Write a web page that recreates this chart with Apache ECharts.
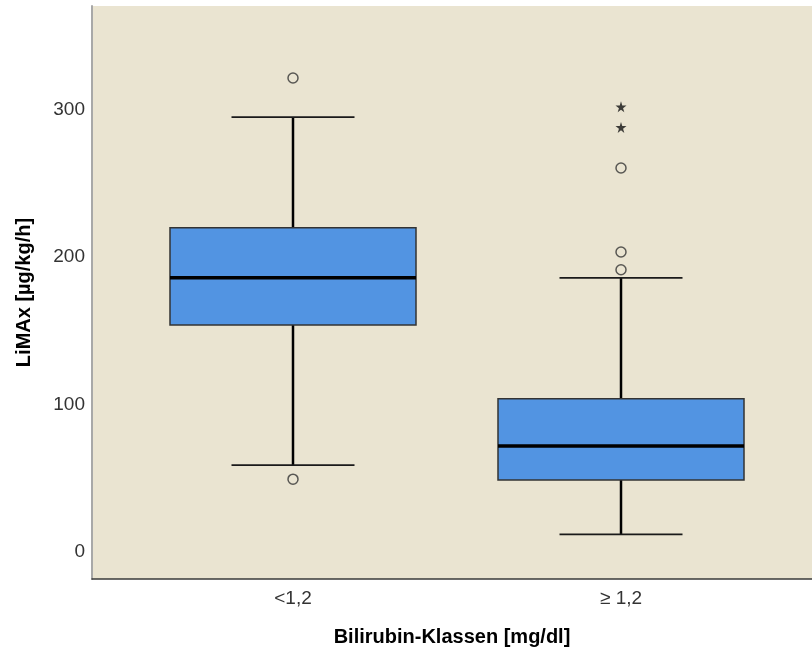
<!DOCTYPE html>
<html>
<head>
<meta charset="utf-8">
<script src="https://cdn.jsdelivr.net/npm/echarts@6/dist/echarts.min.js"></script>
<style>html,body{margin:0;padding:0;background:#fff}#c{width:812px;height:652px}</style>
</head>
<body>
<div id="c"></div>
<script>
const categories = ['<1,2', '\u2265 1,2'];
const whiskerLow = [59, 12];
const q1 = [154, 49];
const median = [186, 72];
const q3 = [220, 104];
const whiskerHigh = [295, 186];
const outlierCat = [0, 0, 1, 1, 1];
const outlierVal = [321.5, 49.5, 191.5, 203.5, 260.5];
const extremeCat = [1, 1];
const extremeVal = [288, 302];
const yTicks = [0, 100, 200, 300];

const boxData = categories.map((c, i) => [i, whiskerLow[i], q1[i], median[i], q3[i], whiskerHigh[i]]);
const outlierData = outlierCat.map((c, i) => [c, outlierVal[i]]);
const extremeData = extremeCat.map((c, i) => [c, extremeVal[i]]);

const chart = echarts.init(document.getElementById('c'));
const FONT = 'Arial, "Liberation Sans", sans-serif';
chart.setOption({
  animation: false,
  grid: { left: 92, right: 0, top: 6, bottom: 71, show: true, backgroundColor: '#EAE4D1', borderWidth: 0 },
  xAxis: {
    type: 'value', min: -0.6128, max: 1.5823,
    splitLine: { show: false },
    axisLine: { show: true, onZero: false, lineStyle: { color: '#3a3a3a', width: 1.5 } },
    axisTick: { show: false },
    axisLabel: { customValues: [0, 1], formatter: v => categories[Math.round(v)], color: '#333', fontSize: 19, fontFamily: FONT, margin: 10 },
    name: 'Bilirubin-Klassen [mg/dl]', nameLocation: 'middle', nameGap: 48,
    nameTextStyle: { color: '#000', fontSize: 20, fontWeight: 'bold', fontFamily: FONT }
  },
  yAxis: {
    type: 'value', min: -18.2, max: 370.3,
    splitLine: { show: false },
    axisLine: { show: true, onZero: false, lineStyle: { color: '#a8a8a8', width: 2 } },
    axisTick: { show: false },
    axisLabel: { customValues: yTicks, color: '#333', fontSize: 19, fontFamily: FONT, margin: 7 },
    name: 'LiMAx [µg/kg/h]', nameLocation: 'middle', nameGap: 58,
    nameTextStyle: { color: '#000', fontSize: 20, fontWeight: 'bold', fontFamily: FONT }
  },
  series: [
    {
      type: 'custom',
      data: boxData,
      encode: { x: 0, y: [1, 2, 3, 4, 5] },
      renderItem: function (params, api) {
        const x = api.value(0);
        const lo = api.coord([x, api.value(1)]);
        const a = api.coord([x, api.value(2)]);
        const md = api.coord([x, api.value(3)]);
        const b = api.coord([x, api.value(4)]);
        const hi = api.coord([x, api.value(5)]);
        const bw = api.size([0.75, 0])[0];
        const cw = bw / 2;
        const cx = lo[0];
        return {
          type: 'group',
          children: [
            { type: 'line', shape: { x1: cx, y1: hi[1], x2: cx, y2: b[1] }, style: { stroke: '#000', lineWidth: 2.5 } },
            { type: 'line', shape: { x1: cx, y1: a[1], x2: cx, y2: lo[1] }, style: { stroke: '#000', lineWidth: 2.5 } },
            { type: 'line', shape: { x1: cx - cw / 2, y1: hi[1], x2: cx + cw / 2, y2: hi[1] }, style: { stroke: '#1a1a1a', lineWidth: 1.8 } },
            { type: 'line', shape: { x1: cx - cw / 2, y1: lo[1], x2: cx + cw / 2, y2: lo[1] }, style: { stroke: '#1a1a1a', lineWidth: 1.8 } },
            { type: 'rect', shape: { x: cx - bw / 2, y: b[1], width: bw, height: a[1] - b[1] }, style: { fill: '#5294E2', stroke: '#333', lineWidth: 1.5 } },
            { type: 'line', shape: { x1: cx - bw / 2, y1: md[1], x2: cx + bw / 2, y2: md[1] }, style: { stroke: '#000', lineWidth: 3.5 } }
          ]
        };
      }
    },
    {
      type: 'scatter', data: outlierData, symbol: 'circle', symbolSize: 10,
      itemStyle: { color: 'rgba(0,0,0,0)', borderColor: '#333', borderWidth: 1.5 }
    },
    {
      type: 'scatter', data: extremeData,
      symbol: 'path://M50,0 L61,35 L98,35 L68,57 L79,91 L50,70 L21,91 L32,57 L2,35 L39,35 Z',
      symbolSize: 11, itemStyle: { color: '#111' }
    }
  ]
});
</script>
</body>
</html>
